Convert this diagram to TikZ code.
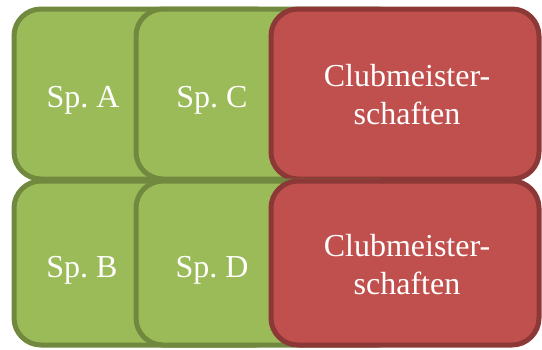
\documentclass[tikz,border=0pt]{standalone}
\usepackage{fontspec}
\setmainfont{Liberation Serif}
\frenchspacing

\definecolor{spgreen}{HTML}{9BBB59}
\definecolor{spgreenline}{HTML}{71893F}
\definecolor{spred}{HTML}{C0504D}
\definecolor{spredline}{HTML}{8C3836}

\begin{document}
\begin{tikzpicture}[x=1pt, y=-1pt]
\tikzset{
    greenbox/.style={rectangle, rounded corners=27pt, draw=spgreenline, fill=spgreen, line width=5pt, minimum width=268pt, inner sep=0pt},
    redbox/.style={rectangle, rounded corners=27pt, draw=spredline, fill=spred, line width=5pt, minimum width=268pt, inner sep=0pt},
    toprow/.style={minimum height=170pt},
    bottomrow/.style={minimum height=164pt},
    boxtext/.style={text=white, font=\fontsize{32}{38}\selectfont, inner sep=0pt, align=center}
}
  \useasboundingbox (0,0) rectangle (542,349);

  % upper row
  \node[greenbox, toprow] (spA) at (148,94) {};
  \node[greenbox, toprow] (spC) at (270,94) {};
  \node[redbox, toprow] (club1) at (405,94) {};
  \node[boxtext, anchor=base] (txtA) at (83,107) {Sp. A};
  \node[boxtext, anchor=base] (txtC) at (212,107) {Sp. C};
  \node[boxtext] (txtclub1) at (407,95) {Clubmeister-\\schaften};

  % lower row
  \node[greenbox, bottomrow] (spB) at (148,263) {};
  \node[greenbox, bottomrow] (spD) at (270,263) {};
  \node[redbox, bottomrow] (club2) at (405,263) {};
  \node[boxtext, anchor=base] (txtB) at (82,277) {Sp. B};
  \node[boxtext, anchor=base] (txtD) at (212,277) {Sp. D};
  \node[boxtext] (txtclub2) at (407,265) {Clubmeister-\\schaften};
\end{tikzpicture}
\end{document}
